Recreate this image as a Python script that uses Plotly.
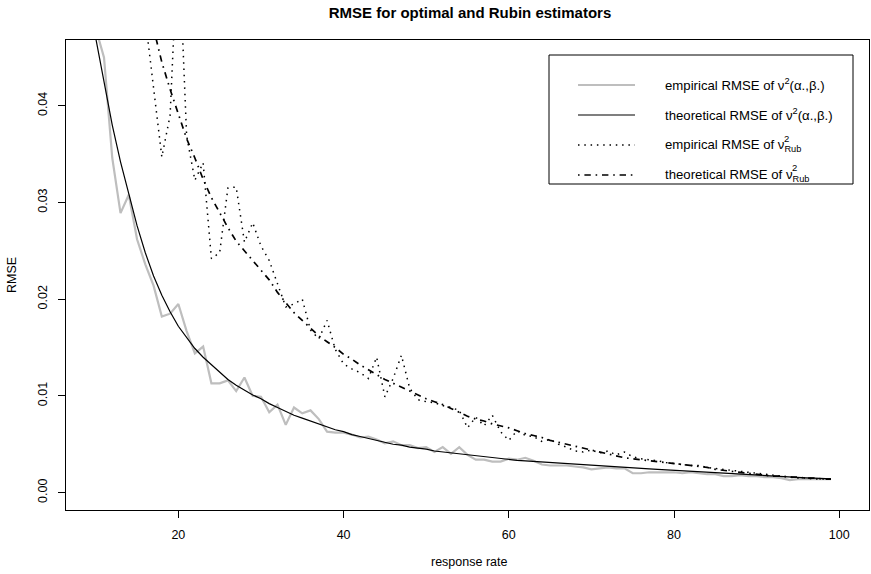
import plotly.graph_objects as go

# ---- data -------------------------------------------------------------
response_rate = list(range(10, 100))

emp_opt = [0.0480, 0.0450, 0.0346, 0.0289, 0.0308, 0.0262, 0.0236, 0.0214, 0.0182, 0.0185,
           0.0195, 0.0167, 0.0144, 0.0151, 0.0113, 0.0113, 0.0116, 0.0105, 0.0119, 0.0100,
           0.0099, 0.0083, 0.0091, 0.0070, 0.0088, 0.0082, 0.0085, 0.0076, 0.0063, 0.0062,
           0.0062, 0.0060, 0.0057, 0.0058, 0.0055, 0.0051, 0.0053, 0.0049, 0.0049, 0.0046,
           0.0047, 0.0042, 0.0047, 0.0040, 0.0047, 0.0039, 0.0034, 0.0034, 0.0032, 0.0032,
           0.0035, 0.0034, 0.0036, 0.0033, 0.0029, 0.0028, 0.0028, 0.0028, 0.0027, 0.0026,
           0.0024, 0.0025, 0.0026, 0.0025, 0.0025, 0.0020, 0.0020, 0.0021, 0.0021, 0.0021,
           0.0021, 0.0020, 0.0021, 0.0020, 0.0019, 0.0019, 0.0017, 0.0017, 0.0018, 0.0017,
           0.0017, 0.0016, 0.0016, 0.0015, 0.0013, 0.0014, 0.0014, 0.0014, 0.0014, 0.0014]

theo_opt = [0.0470, 0.0424, 0.0380, 0.0342, 0.0308, 0.0276, 0.0248, 0.0224, 0.0204, 0.0187,
            0.0172, 0.0160, 0.0149, 0.0140, 0.0132, 0.0124, 0.0117, 0.0111, 0.0106, 0.0101,
            0.0097, 0.0092, 0.0088, 0.0084, 0.0080, 0.0077, 0.0074, 0.0071, 0.0068, 0.0065,
            0.0063, 0.0060, 0.0058, 0.0056, 0.0054, 0.0052, 0.0050, 0.0049, 0.0047, 0.0046,
            0.0045, 0.0043, 0.0042, 0.0041, 0.0040, 0.0039, 0.0038, 0.0037, 0.0036, 0.0035,
            0.00340, 0.00334, 0.00328, 0.00322, 0.00316, 0.00310, 0.00304, 0.00298, 0.00292, 0.00286,
            0.00280, 0.00275, 0.00270, 0.00265, 0.00260, 0.00255, 0.00250, 0.00245, 0.00240, 0.00235,
            0.00230, 0.00225, 0.00219, 0.00213, 0.00207, 0.00201, 0.00196, 0.00191, 0.00186, 0.00181,
            0.00176, 0.00172, 0.00168, 0.00164, 0.00160, 0.00157, 0.00153, 0.00149, 0.00145, 0.00141]

emp_rub = [0.0800, 0.0750, 0.0700, 0.0660, 0.0600, 0.0550, 0.0490, 0.0421, 0.0347, 0.0390,
           0.0580, 0.0369, 0.0323, 0.0341, 0.0242, 0.0248, 0.0315, 0.0316, 0.0259, 0.0279,
           0.0255, 0.0240, 0.0215, 0.0192, 0.0195, 0.0200, 0.0168, 0.0159, 0.0178, 0.0148,
           0.0133, 0.0128, 0.0124, 0.0118, 0.0140, 0.0099, 0.0118, 0.0142, 0.0108, 0.0096,
           0.0094, 0.0093, 0.0090, 0.0088, 0.0085, 0.0067, 0.0078, 0.0069, 0.0080, 0.0063,
           0.0054, 0.0064, 0.0059, 0.0058, 0.0053, 0.0055, 0.0050, 0.0047, 0.0043, 0.0042,
           0.0044, 0.0041, 0.0043, 0.0039, 0.0042, 0.0037, 0.0035, 0.0034, 0.0033, 0.0031,
           0.0030, 0.0029, 0.0028, 0.0028, 0.0026, 0.0025, 0.0024, 0.0023, 0.0022, 0.0021,
           0.0020, 0.0019, 0.0018, 0.0017, 0.0016, 0.0015, 0.0015, 0.0014, 0.0014, 0.0014]

theo_rub = [0.1000, 0.0900, 0.0790, 0.0700, 0.0630, 0.0570, 0.0520, 0.0480, 0.0445, 0.0417,
            0.0392, 0.0366, 0.0346, 0.0324, 0.0305, 0.0289, 0.0274, 0.0260, 0.0250, 0.0239,
            0.0230, 0.0220, 0.0207, 0.0196, 0.0186, 0.0178, 0.0170, 0.0162, 0.0156, 0.0150,
            0.0143, 0.0138, 0.0132, 0.0127, 0.0122, 0.0117, 0.0113, 0.0109, 0.0105, 0.0101,
            0.0097, 0.0094, 0.0091, 0.0087, 0.0083, 0.0079, 0.0076, 0.0074, 0.0071, 0.0069,
            0.0067, 0.0064, 0.0061, 0.0059, 0.0057, 0.0054, 0.0052, 0.0050, 0.0048, 0.0046,
            0.0044, 0.0042, 0.0040, 0.0038, 0.0036, 0.0035, 0.0034, 0.0033, 0.0032, 0.0031,
            0.0030, 0.0029, 0.0028, 0.0027, 0.0026, 0.0024, 0.0023, 0.0022, 0.0021, 0.0020,
            0.0019, 0.0018, 0.0017, 0.0017, 0.0016, 0.0016, 0.0015, 0.0015, 0.0014, 0.0014]

x_ticks = [20, 40, 60, 80, 100]
y_ticks = [0.00, 0.01, 0.02, 0.03, 0.04]
y_tick_labels = ["0.00", "0.01", "0.02", "0.03", "0.04"]

legend_labels = [
    "empirical RMSE of ν<sup>2</sup>(α.,β.)",
    "theoretical RMSE of ν<sup>2</sup>(α.,β.)",
    "empirical RMSE of ν<sub>Rub</sub>",
    "theoretical RMSE of ν<sub>Rub</sub>",
]

# ---- styling ----------------------------------------------------------
FONT = "Liberation Sans, Arial, Helvetica, sans-serif"
W, H = 871, 574
L, T, B_PX, R_PX = 66, 40, 510, 869   # plot box in pixels

styles = [
    dict(color="#BEBEBE", width=2.2, dash="solid"),
    dict(color="black", width=1.2, dash="solid"),
    dict(color="black", width=1.5, dash="1.5px,4.8px"),
    dict(color="black", width=1.7, dash="1.6px,4.8px,6.4px,4.8px"),
]
series = [emp_opt, theo_opt, emp_rub, theo_rub]

fig = go.Figure()
for vals, st, name in zip(series, styles, legend_labels):
    fig.add_trace(go.Scatter(x=response_rate, y=vals, mode="lines", line=st,
                             name=name, showlegend=False, hoverinfo="skip"))

def px2paper_x(px):
    return (px - L) / (R_PX - L)

def px2paper_y(py):
    return (B_PX - py) / (B_PX - T)

shapes = []
annotations = []
LEG_FONT = 13.2

# legend box
shapes.append(dict(type="rect", xref="paper", yref="paper",
                   x0=px2paper_x(549), x1=px2paper_x(853),
                   y0=px2paper_y(184), y1=px2paper_y(55),
                   line=dict(color="black", width=1), fillcolor="rgba(0,0,0,0)"))
row_y = [85, 115, 145, 175]
for ry, st, lab in zip(row_y, styles, legend_labels):
    shapes.append(dict(type="line", xref="paper", yref="paper",
                       x0=px2paper_x(578), x1=px2paper_x(635),
                       y0=px2paper_y(ry), y1=px2paper_y(ry),
                       line=dict(color=st["color"], width=st["width"], dash=st["dash"])))
    annotations.append(dict(xref="paper", yref="paper", x=px2paper_x(663), y=px2paper_y(ry),
                            xanchor="left", yanchor="middle", showarrow=False, text=lab,
                            font=dict(family=FONT, size=LEG_FONT, color="black")))
# superscript "2" stacked above "Rub"
for ry, sx in [(145, 782), (175, 790)]:
    annotations.append(dict(xref="paper", yref="paper", x=px2paper_x(sx), y=px2paper_y(ry - 7),
                            xanchor="left", yanchor="middle", showarrow=False, text="2",
                            font=dict(family=FONT, size=9.5, color="black")))

# axis titles
annotations.append(dict(xref="paper", yref="paper", x=px2paper_x(469), y=px2paper_y(562),
                        xanchor="center", yanchor="middle", showarrow=False, text="response rate",
                        font=dict(family=FONT, size=12.5, color="black")))
annotations.append(dict(xref="paper", yref="paper", x=px2paper_x(12), y=px2paper_y(275),
                        xanchor="center", yanchor="middle", showarrow=False, text="RMSE",
                        textangle=-90, font=dict(family=FONT, size=12.5, color="black")))

x_range = [6.4, 103.6]

fig.update_layout(
    width=W, height=H,
    margin=dict(l=L, r=W - R_PX, t=T, b=H - B_PX, pad=0),
    paper_bgcolor="white", plot_bgcolor="white",
    font=dict(family=FONT, size=12.5, color="black"),
    title=dict(text="<b>RMSE for optimal and Rubin estimators</b>",
               x=470 / W, xref="container", xanchor="center",
               y=1 - 13 / H, yref="container", yanchor="middle",
               font=dict(family=FONT, size=15, color="black")),
    xaxis=dict(range=x_range, tickvals=x_ticks, ticktext=[str(v) for v in x_ticks],
               showgrid=False, zeroline=False, showline=True, linecolor="black", linewidth=1,
               mirror=True, ticks="outside", ticklen=7, tickcolor="black", tickwidth=1,
               ticklabelstandoff=6),
    yaxis=dict(range=[-0.0018, 0.0468], tickvals=y_ticks, ticktext=y_tick_labels,
               showgrid=False, zeroline=False, showline=True, linecolor="black", linewidth=1,
               mirror=True, ticks="outside", ticklen=7, tickcolor="black", tickwidth=1,
               tickangle=-90, ticklabelstandoff=6),
    shapes=shapes, annotations=annotations,
)

fig.write_html("out.html")
